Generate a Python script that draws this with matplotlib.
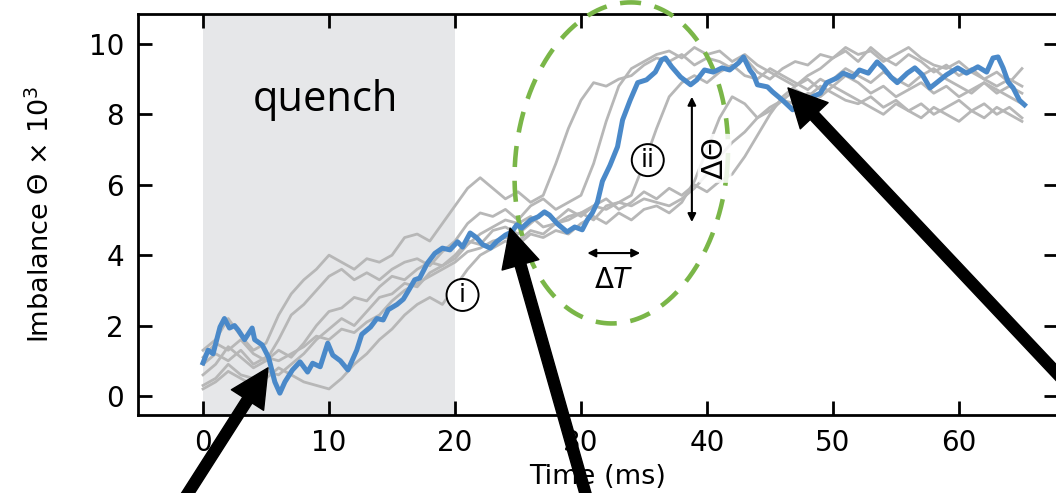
import numpy as np
import matplotlib
matplotlib.use("Agg")
import matplotlib.pyplot as plt

# ── data ──────────────────────────────────────────────────────────────────────
QUENCH_START, QUENCH_END = 0, 20

# blue highlighted trace: (time ms, imbalance x1e3)
blue_t = [0.0, 0.4, 0.8, 1.35, 1.7, 2.1, 2.5, 2.8, 3.3, 3.9, 4.1, 4.7, 5.2, 5.7,
          6.1, 6.5, 7.1, 7.7, 8.3, 8.7, 9.3, 9.9, 10.3, 10.9, 11.5, 12.2, 12.6,
          13.3, 13.8, 14.3, 14.7, 15.4, 15.9, 16.4, 16.8, 17.2, 17.8, 18.4, 19.0,
          19.6, 20.2, 20.6, 21.2, 21.7, 22.2, 22.8, 23.3, 24.0, 24.5, 24.9, 25.3,
          26.0, 26.6, 27.1, 27.5, 28.1, 28.9, 29.5, 30.1, 30.5, 30.9, 31.3, 31.7,
          32.3, 32.9, 33.3, 33.9, 34.5, 35.2, 35.9, 36.4, 36.7, 37.2, 37.9, 38.7,
          39.2, 39.8, 40.5, 41.2, 41.8, 42.5, 42.9, 43.4, 43.7, 44.0, 44.8, 45.2,
          46.0, 46.8, 47.6, 48.4, 49.0, 49.5, 50.3, 50.8, 51.6, 52.1, 52.8, 53.5,
          54.0, 54.6, 55.1, 55.9, 56.5, 57.1, 57.7, 58.3, 59.0, 59.9, 60.6, 61.5,
          62.2, 62.7, 63.1, 63.5, 63.9, 64.3, 64.8, 65.2]
blue_y = [0.94, 1.30, 1.20, 1.96, 2.20, 1.93, 2.00, 1.87, 1.60, 1.93, 1.60, 1.45, 1.10, 0.40,
          0.08, 0.40, 0.74, 0.97, 0.68, 0.93, 0.83, 1.50, 1.16, 1.00, 0.74, 1.30, 1.75,
          1.96, 2.20, 2.16, 2.45, 2.60, 2.75, 3.05, 3.30, 3.35, 3.77, 4.05, 4.20,
          4.15, 4.38, 4.23, 4.63, 4.50, 4.30, 4.20, 4.38, 4.57, 4.66, 4.86, 4.77,
          5.00, 5.09, 5.23, 5.14, 4.90, 4.66, 4.80, 4.72, 5.00, 5.20, 5.50, 6.10,
          6.55, 7.08, 7.84, 8.40, 8.90, 8.98, 9.20, 9.55, 9.60, 9.35, 9.06, 8.84,
          8.98, 9.26, 9.20, 9.32, 9.26, 9.46, 9.63, 9.26, 9.12, 8.84, 8.78, 8.64,
          8.40, 8.13, 8.32, 8.50, 8.60, 8.90, 9.03, 9.17, 9.06, 9.26, 9.17, 9.49,
          9.32, 9.06, 8.90, 9.17, 9.32, 9.12, 8.75, 8.92, 9.12, 9.32, 9.17, 9.35,
          9.20, 9.60, 9.63, 9.32, 8.92, 8.75, 8.40, 8.27]

# grey traces, one value per ms from 0 to 65
gray_t = list(range(0, 66))
gray_1 = [1.3, 1.6, 2.2, 1.7, 1.3, 1.5, 2.3, 2.9, 3.3, 3.6, 4.0, 3.8, 3.6, 3.9, 3.8, 4.0,
          4.5, 4.6, 4.4, 4.9, 5.4, 5.9, 6.2, 5.9, 5.6, 5.8, 5.5, 5.7, 6.6, 7.6, 8.4, 8.9,
          8.8, 9.0, 9.1, 9.4, 9.6, 9.5, 9.7, 9.4, 9.6, 9.5, 9.3, 9.6, 9.2, 9.0, 9.3, 9.5,
          9.4, 9.7, 9.6, 9.8, 9.5, 9.9, 9.6, 9.4, 9.7, 9.5, 9.2, 9.4, 9.1, 9.3, 9.0, 9.2,
          8.9, 9.3]
gray_2 = [0.6, 0.9, 1.4, 1.1, 0.8, 1.0, 1.6, 2.3, 2.6, 3.0, 3.4, 3.6, 3.3, 3.5, 3.3, 3.6,
          3.8, 3.9, 3.7, 4.1, 4.4, 4.9, 5.2, 5.1, 5.3, 5.0, 5.4, 5.6, 5.3, 5.5, 5.7, 6.6,
          7.8, 8.8, 9.3, 9.5, 9.7, 9.8, 9.6, 9.9, 9.7, 9.8, 9.5, 9.7, 9.4, 9.2, 9.0, 8.8,
          9.1, 9.3, 9.6, 9.9, 9.7, 9.8, 9.5, 9.7, 9.9, 9.6, 9.4, 9.3, 9.5, 9.2, 9.0, 8.8,
          9.0, 8.8]
gray_3 = [0.3, 0.5, 0.9, 0.6, 0.5, 0.7, 0.6, 0.9, 1.2, 1.6, 1.9, 2.2, 2.0, 2.4, 2.8, 2.9,
          3.2, 3.1, 3.5, 3.7, 3.9, 4.3, 4.6, 4.8, 5.0, 4.9, 5.1, 4.8, 4.9, 5.1, 5.2, 5.0,
          5.4, 5.5, 5.7, 6.6, 7.6, 8.5, 8.9, 9.1, 8.9, 9.2, 9.4, 9.1, 9.0, 9.3, 9.1, 8.9,
          8.7, 9.0, 8.8, 9.1, 8.9, 8.6, 8.8, 8.5, 8.7, 8.9, 8.6, 8.8, 8.5, 8.7, 8.9, 8.6,
          8.8, 8.6]
gray_4 = [0.2, 0.4, 0.7, 0.5, 0.3, 0.5, 0.8, 0.6, 0.4, 0.3, 0.2, 0.5, 0.9, 1.2, 1.6, 1.9,
          2.3, 2.6, 2.8, 2.6, 3.1, 3.6, 4.0, 4.2, 4.4, 4.3, 4.6, 4.5, 4.7, 4.6, 4.9, 5.1,
          4.9, 5.2, 5.0, 5.3, 5.4, 5.2, 5.5, 6.1, 7.0, 7.9, 8.5, 8.3, 7.9, 8.1, 8.4, 8.7,
          8.5, 8.8, 8.6, 8.4, 8.3, 8.5, 8.2, 8.4, 8.1, 8.3, 8.0, 8.2, 8.4, 8.1, 8.3, 8.0,
          8.2, 7.9]
gray_5 = [0.9, 1.2, 1.0, 1.3, 0.9, 1.1, 1.0, 1.2, 1.4, 1.7, 1.6, 1.9, 1.8, 2.1, 2.3, 2.7,
          3.0, 3.2, 3.4, 3.6, 3.8, 4.1, 4.2, 4.4, 4.5, 4.4, 4.7, 4.6, 4.9, 5.0, 5.2, 5.4,
          5.3, 5.5, 5.4, 5.6, 5.5, 5.4, 5.6, 5.9, 6.3, 6.8, 7.2, 7.5, 7.9, 8.2, 8.4, 8.3,
          8.6, 8.5, 8.8, 8.6, 8.4, 8.2, 8.0, 8.3, 8.1, 7.9, 8.2, 8.0, 7.8, 8.1, 7.9, 8.2,
          8.0, 7.8]
gray_6 = [1.1, 1.5, 1.3, 1.6, 1.2, 1.0, 1.3, 1.1, 1.5, 2.0, 2.4, 2.5, 2.8, 2.7, 3.1, 3.4,
          3.3, 3.6, 3.8, 3.7, 4.0, 4.4, 4.3, 4.7, 4.8, 4.6, 4.9, 5.2, 5.0, 5.3, 5.1, 5.4,
          5.6, 5.3, 5.5, 5.8, 5.6, 5.9, 5.7, 6.0, 5.8, 6.1, 6.3, 6.8, 7.4, 8.0, 8.5, 8.8,
          9.0, 8.7, 9.0, 9.3, 9.1, 8.9, 9.2, 9.0, 8.8, 9.1, 9.3, 9.0, 8.8, 8.6, 8.9, 8.7,
          8.5, 8.3]
gray_traces = [gray_1, gray_2, gray_3, gray_4, gray_5, gray_6]

XTICKS = [0, 10, 20, 30, 40, 50, 60]
YTICKS = [0, 2, 4, 6, 8, 10]

BLUE  = "#4a89c9"
GREY  = "#b7b7b7"
GREEN = "#7ab648"
SHADE = "#e6e7e9"

# ── figure ────────────────────────────────────────────────────────────────────
fig = plt.figure(figsize=(10.56, 4.93), dpi=100)
ax = fig.add_axes([138 / 1056, 1 - 415 / 493, (1058 - 138) / 1056, (415 - 14) / 493])

ax.set_xlim(-5.16, 67.86)
ax.set_ylim(-0.54, 10.85)

ax.axvspan(QUENCH_START, QUENCH_END, color=SHADE, lw=0, zorder=0)

for g in gray_traces:
    ax.plot(gray_t, g, color=GREY, lw=2.0, zorder=2)
ax.plot(blue_t, blue_y, color=BLUE, lw=3.6, zorder=4)

# dashed ellipse around the jump region (shape defined in pixels, 12.6 px/ms, 35.2 px/unit)
th = np.linspace(0, 2 * np.pi, 400)
phi = np.deg2rad(6)
u, v = 106 * np.cos(th), 161 * np.sin(th)
ex = 33.2 + (u * np.cos(phi) + v * np.sin(phi)) / 12.6
ey = 6.62 + (-u * np.sin(phi) + v * np.cos(phi)) / 35.2
ax.plot(ex, ey, color=GREEN, lw=3.3, dashes=(4.6, 3.0), zorder=3, clip_on=False)

# labels inside the plot
ax.text(9.7, 8.4, "quench", family="Open Sans", fontsize=30, ha="center", va="center")
circ = dict(boxstyle="circle,pad=0.16", fc="white", ec="black", lw=1.4)
ax.text(20.6, 2.87, "i", fontsize=18, ha="center", va="center", bbox=circ, zorder=6)
ax.text(35.3, 6.7, "ii", fontsize=18, ha="center", va="center", bbox=circ, zorder=6)
ax.text(40.6, 6.75, r"$\Delta\Theta$", fontsize=21, rotation=90, ha="center", va="center",
        bbox=dict(boxstyle="round,pad=0.1", fc="white", ec="none", alpha=0.85), zorder=6)
ax.text(32.6, 3.3, r"$\Delta T$", fontsize=20, ha="center", va="center", zorder=6)

dbl = dict(arrowstyle="<|-|>", color="black", lw=1.5, mutation_scale=12,
           shrinkA=0, shrinkB=0)
ax.annotate("", xy=(38.8, 8.5), xytext=(38.8, 4.94), arrowprops=dbl, zorder=6)
ax.annotate("", xy=(30.5, 4.06), xytext=(34.7, 4.06), arrowprops=dbl, zorder=6)

# thick pointer arrows coming from outside the axes
big = dict(arrowstyle="simple,head_length=1.25,head_width=1.25,tail_width=0.36",
           color="black", mutation_scale=22, shrinkA=0, shrinkB=0)
pointers = [((5.16, 0.80), (-2.6, -3.55)),
            ((24.37, 4.77), (30.95, -3.52)),
            ((46.43, 8.75), (69.6, -0.05))]
for tip, tail in pointers:
    ax.annotate("", xy=tip, xytext=tail, arrowprops=big,
                annotation_clip=False, zorder=10)

# axes styling
ax.set_xticks(XTICKS)
ax.set_yticks(YTICKS)
ax.tick_params(direction="in", length=10, width=2, top=True, right=True,
               labelsize=20, pad=10)
for s in ax.spines.values():
    s.set_linewidth(2)
ax.set_xlabel("Time (ms)", fontsize=19.5, labelpad=5)
ax.set_ylabel(r"Imbalance $\Theta$ $\times$ 10$^3$", fontsize=19.5, labelpad=24)

fig.savefig("out.png", dpi=100)
